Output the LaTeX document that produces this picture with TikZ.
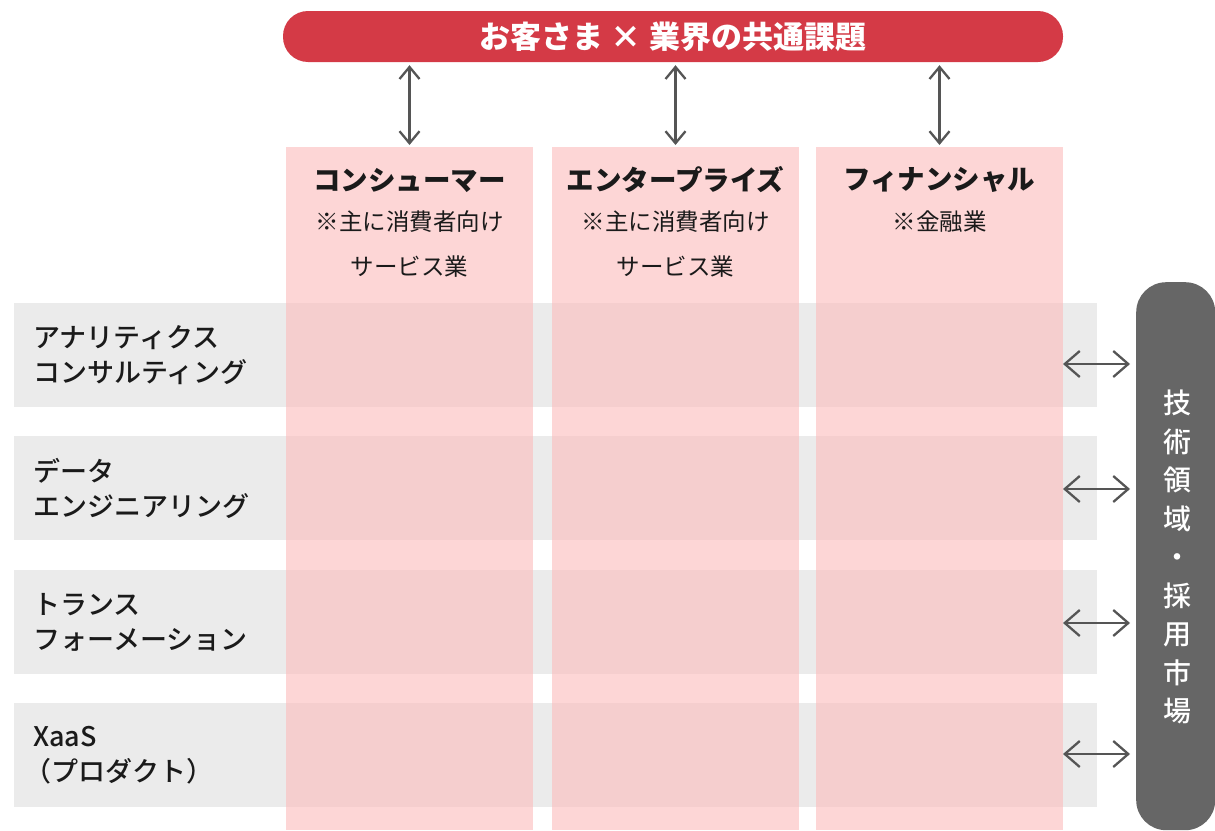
\documentclass[tikz,border=0pt]{standalone}
\usepackage{fontspec}
\setmainfont{Noto Sans CJK JP}
\newfontfamily\medfont{Noto Sans CJK JP Medium}
\usetikzlibrary{arrows.meta}
\definecolor{pillred}{HTML}{D43A46}
\definecolor{colpink}{RGB}{252,187,187}
\definecolor{rowgrey}{HTML}{EBEBEB}
\definecolor{darkpill}{HTML}{666666}
\definecolor{arrowgrey}{HTML}{555555}
\definecolor{txt}{HTML}{1A1A1A}
\tikzset{
  colbox/.style={fill=colpink, fill opacity=0.6, draw=none},
  rowbox/.style={fill=rowgrey, draw=none},
  coltitle/.style={font=\fontsize{27.5}{30}\selectfont\bfseries, text=txt, inner sep=0pt},
  colsub/.style={font=\fontsize{23.5}{45}\selectfont, text=txt, inner sep=0pt, align=center},
  rowlabel/.style={font=\fontsize{27}{35}\selectfont\medfont, text=txt, inner sep=0pt, align=left, anchor=west},
  biarrow/.style={draw=arrowgrey, line width=2.3pt, {Straight Barb[length=12pt,width=20pt]}-{Straight Barb[length=12pt,width=20pt]}},
  harrow/.style={draw=arrowgrey, line width=2.3pt, {Straight Barb[length=15pt,width=26pt]}-{Straight Barb[length=15pt,width=26pt]}},
}
\begin{document}
\begin{tikzpicture}[x=1pt,y=-1pt]
\useasboundingbox (0,0) rectangle (1215,830);
% grey rows
\foreach \y/\n/\a in {303/r1/61,436/r2/53,570/r3/53,703/r4/51}{
  \path[rowbox] (14,\y) rectangle (1097,\y+104);
  \coordinate (\n) at (33,\y+52);
  \coordinate (\n e) at (1063,\y+\a);
}
% pink columns
\path[colbox] (286,147) rectangle (533,830);
\path[colbox] (552,147) rectangle (799,830);
\path[colbox] (816,147) rectangle (1063,830);
\node[inner sep=0pt, minimum width=247pt, minimum height=1pt, anchor=north] (c1) at (409.5,147) {};
\node[inner sep=0pt, minimum width=247pt, minimum height=1pt, anchor=north] (c2) at (675.5,147) {};
\node[inner sep=0pt, minimum width=247pt, minimum height=1pt, anchor=north] (c3) at (939.5,147) {};
% top pill
\node[fill=pillred, rounded corners=25pt, minimum width=780pt, minimum height=51pt, inner sep=0pt,
      text=white, font=\fontsize{31}{34}\selectfont\bfseries] (top) at (673,36.5) {お客さま × 業界の共通課題};
% right pill
\node[fill=darkpill, rounded corners=30pt, minimum width=79pt, minimum height=548pt, inner sep=0pt, anchor=north west] (side) at (1136,282) {};
\node[text=white, font=\fontsize{28}{38.5}\selectfont\medfont, align=center, inner sep=0pt] (sidetxt) at (1177,557)
  {技\\術\\領\\域\\・\\採\\用\\市\\場};
% column texts
\node[coltitle] (t1) at (409.5,180) {コンシューマー};
\node[coltitle] (t2) at (675.5,180) {エンタープライズ};
\node[coltitle] (t3) at (939.5,180) {フィナンシャル};
\node[colsub, anchor=north] (s1) at (409.5,211) {※主に消費者向け\\サービス業};
\node[colsub, anchor=north] (s2) at (675.5,211) {※主に消費者向け\\サービス業};
\node[colsub, anchor=north] (s3) at (939.5,211) {※金融業};
% row labels
\node[rowlabel] (l1) at (r1) {アナリティクス\\コンサルティング};
\node[rowlabel] (l2) at (r2) {データ\\エンジニアリング};
\node[rowlabel] (l3) at (r3) {トランス\\フォーメーション};
\node[rowlabel] (l4) at (r4) {XaaS\\\kern-0.33em（プロダクト）};
% vertical arrows
\draw[biarrow, shorten <=3pt, shorten >=2pt] (top.south -| c1.north) -- (c1.north);
\draw[biarrow, shorten <=3pt, shorten >=2pt] (top.south -| c2.north) -- (c2.north);
\draw[biarrow, shorten <=3pt, shorten >=2pt] (top.south -| c3.north) -- (c3.north);
% horizontal arrows
\foreach \n in {r1,r2,r3,r4}{
  \draw[harrow, shorten >=6pt] (\n e) -- (\n e -| side.west);
}
\end{tikzpicture}
\end{document}
